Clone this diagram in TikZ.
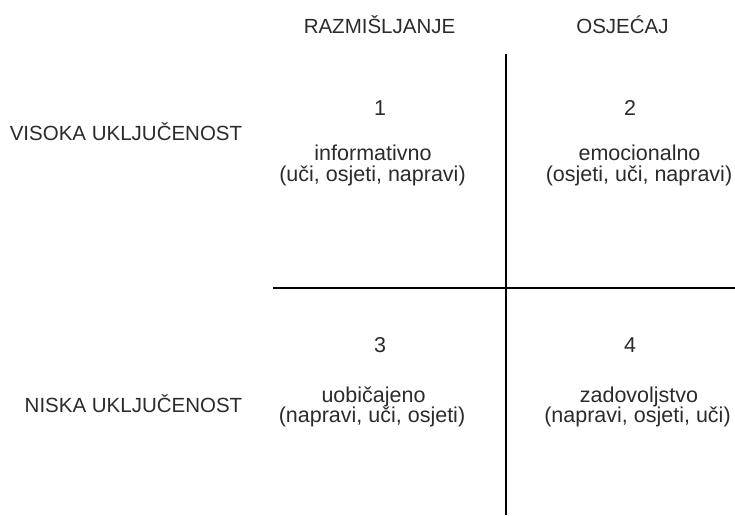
\documentclass[tikz,border=0pt]{standalone}
\usepackage{fontspec}
\setmainfont{Liberation Sans}
\definecolor{ink}{HTML}{2B2B2B}
\tikzset{
  lbl/.style={text=ink, font=\fontsize{20.5}{24}\selectfont, inner sep=0pt, anchor=base},
  cell/.style={text=ink, font=\fontsize{21.5}{25}\selectfont, inner sep=0pt, anchor=base},
  axis/.style={line width=2.2pt, black}
}
\begin{document}
\begin{tikzpicture}[x=1pt,y=-1pt]
\useasboundingbox (0,0) rectangle (735,515);
% column and row headings
\node[lbl] (think) at (379.5,33) {RAZMIŠLJANJE};
\node[lbl] (feel) at (622.5,33) {OSJEĆAJ};
\node[lbl] (high) at (126,140) {VISOKA UKLJUČENOST};
\node[lbl] (low) at (133.5,412) {NISKA UKLJUČENOST};
% quadrant axes
\coordinate (vtop) at (506,54);
\coordinate (vbot) at (506,515);
\coordinate (hleft) at (273,288);
\coordinate (hright) at (735,288);
\draw[axis] (vtop) -- (vbot);
\draw[axis] (hleft) -- (hright);
% quadrant 1
\node[cell] (n1) at (380,115) {1};
\node[cell] (q1a) at (373,160) {informativno};
\node[cell] (q1b) at (372.5,181) {(uči, osjeti, napravi)};
% quadrant 2
\node[cell] (n2) at (630,115) {2};
\node[cell] (q2a) at (639.5,160) {emocionalno};
\node[cell] (q2b) at (639,181) {(osjeti, uči, napravi)};
% quadrant 3
\node[cell] (n3) at (380,352) {3};
\node[cell] (q3a) at (373.5,402) {uobičajeno};
\node[cell] (q3b) at (372,422) {(napravi, uči, osjeti)};
% quadrant 4
\node[cell] (n4) at (630,352) {4};
\node[cell] (q4a) at (639,402) {zadovoljstvo};
\node[cell] (q4b) at (637.5,422) {(napravi, osjeti, uči)};
\end{tikzpicture}
\end{document}
